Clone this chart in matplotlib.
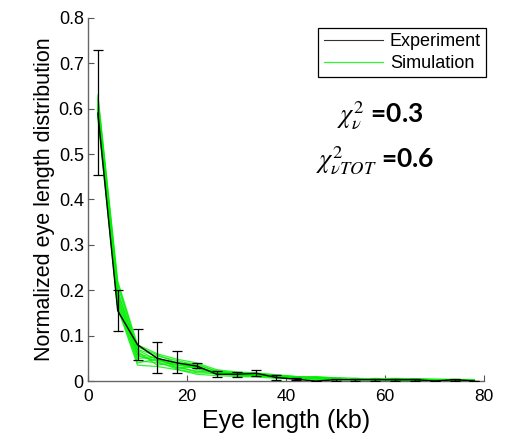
import numpy as np
import matplotlib
matplotlib.use("Agg")
from matplotlib import pyplot as plt

plt.rcParams["font.family"] = ["Liberation Sans", "DejaVu Sans"]
plt.rcParams["mathtext.fontset"] = "stix"

# eye length bins (kb)
EYE_LEN = [2, 6, 10, 14, 18, 22, 26, 30, 34, 38, 42, 46, 50, 54, 58, 62, 66, 70, 74, 78]

EXP_MEAN = [0.59, 0.155, 0.080, 0.050, 0.040, 0.033, 0.015, 0.015, 0.017, 0.008,
            0.004, 0.0, 0.003, 0.003, 0.003, 0.003, 0.003, 0.0, 0.003, 0.0]
EXP_LOW = [0.455, 0.110, 0.047, 0.018, 0.018, 0.028, 0.008, 0.010, 0.012, 0.003,
           0.002, 0.0, 0.001, 0.001, 0.001, 0.001, 0.001, 0.0, 0.001, 0.0]
EXP_HIGH = [0.730, 0.200, 0.115, 0.085, 0.067, 0.040, 0.022, 0.020, 0.025, 0.013,
            0.006, 0.0, 0.005, 0.005, 0.005, 0.005, 0.005, 0.0, 0.005, 0.0]

SIM_RUNS = [
    [0.63, 0.22, 0.080, 0.060, 0.048, 0.040, 0.025, 0.020, 0.018, 0.014, 0.010, 0.009, 0.007, 0.006, 0.005, 0.006, 0.005, 0.004, 0.004, 0.003],
    [0.60, 0.17, 0.045, 0.040, 0.030, 0.022, 0.015, 0.012, 0.012, 0.008, 0.006, 0.005, 0.004, 0.004, 0.003, 0.003, 0.003, 0.002, 0.002, 0.001],
    [0.61, 0.19, 0.060, 0.050, 0.038, 0.030, 0.020, 0.016, 0.014, 0.010, 0.008, 0.007, 0.005, 0.005, 0.004, 0.004, 0.004, 0.003, 0.003, 0.002],
    [0.58, 0.16, 0.035, 0.032, 0.025, 0.015, 0.012, 0.010, 0.009, 0.006, 0.005, 0.004, 0.003, 0.003, 0.003, 0.002, 0.002, 0.002, 0.001, 0.001],
    [0.62, 0.21, 0.070, 0.055, 0.045, 0.035, 0.022, 0.018, 0.016, 0.012, 0.009, 0.008, 0.006, 0.005, 0.005, 0.005, 0.004, 0.004, 0.003, 0.002],
    [0.595, 0.18, 0.055, 0.045, 0.035, 0.028, 0.018, 0.014, 0.013, 0.009, 0.007, 0.006, 0.005, 0.004, 0.004, 0.003, 0.003, 0.003, 0.002, 0.002],
    [0.615, 0.20, 0.065, 0.035, 0.042, 0.025, 0.020, 0.017, 0.011, 0.011, 0.008, 0.010, 0.006, 0.004, 0.006, 0.004, 0.005, 0.002, 0.003, 0.001],
    [0.605, 0.175, 0.050, 0.052, 0.028, 0.033, 0.016, 0.015, 0.015, 0.007, 0.009, 0.006, 0.004, 0.006, 0.003, 0.005, 0.003, 0.003, 0.002, 0.002],
    [0.59, 0.165, 0.040, 0.048, 0.032, 0.020, 0.024, 0.011, 0.013, 0.010, 0.006, 0.005, 0.005, 0.003, 0.004, 0.003, 0.002, 0.003, 0.002, 0.001],
    [0.625, 0.215, 0.075, 0.058, 0.040, 0.038, 0.021, 0.019, 0.017, 0.013, 0.010, 0.007, 0.007, 0.005, 0.005, 0.004, 0.004, 0.003, 0.003, 0.002],
    [0.60, 0.195, 0.068, 0.047, 0.036, 0.031, 0.019, 0.016, 0.015, 0.011, 0.009, 0.006, 0.006, 0.005, 0.004, 0.004, 0.003, 0.003, 0.002, 0.002],
    [0.585, 0.185, 0.058, 0.043, 0.026, 0.018, 0.017, 0.013, 0.010, 0.009, 0.007, 0.008, 0.005, 0.004, 0.005, 0.003, 0.004, 0.002, 0.003, 0.002],
]

CHI2_NU = "0.3"
CHI2_TOT = "0.6"


def main():
    fig = plt.figure(figsize=(5.16, 4.36), dpi=100)
    ax = fig.add_axes([0.1705, 0.126, 0.768, 0.833])

    x = np.array(EYE_LEN)
    for i, run in enumerate(SIM_RUNS):
        ax.plot(x, run, color="#00f000", linewidth=0.9, alpha=0.8,
                label="Simulation" if i == 0 else None, zorder=2)

    mean = np.array(EXP_MEAN)
    yerr = [mean - np.array(EXP_LOW), np.array(EXP_HIGH) - mean]
    ax.errorbar(x, mean, yerr=yerr, color="black", linewidth=1.0, elinewidth=0.9,
                capsize=3.5, capthick=0.9, zorder=3)
    ax.plot([], [], color="#333333", linewidth=0.8, label="Experiment")

    ax.set_xlim(0, 80)
    ax.set_ylim(0, 0.8)
    ax.set_xticks([0, 20, 40, 60, 80])
    ax.set_yticks(np.arange(0, 0.81, 0.1))
    ax.set_yticklabels(["0", "0.1", "0.2", "0.3", "0.4", "0.5", "0.6", "0.7", "0.8"])
    ax.tick_params(direction="in", length=4, color="#555555")
    ax.tick_params(axis="y", labelsize=13, pad=3)
    ax.tick_params(axis="x", labelsize=12.5, pad=6)
    for side in ("top", "right"):
        ax.spines[side].set_visible(False)
    for side in ("left", "bottom"):
        ax.spines[side].set_color("#666666")
        ax.spines[side].set_linewidth(1.0)

    ax.set_xlabel("Eye length (kb)", fontsize=18, labelpad=3)
    ax.set_ylabel("Normalized eye length distribution", fontsize=15.5, labelpad=3)

    handles, labels = ax.get_legend_handles_labels()
    order = [labels.index("Experiment"), labels.index("Simulation")]
    leg = ax.legend([handles[k] for k in order], [labels[k] for k in order],
                    loc="upper right", bbox_to_anchor=(1.005, 0.972), fontsize=13,
                    fancybox=False, framealpha=1, edgecolor="black",
                    handlelength=3.3, handletextpad=0.35, borderpad=0.3,
                    labelspacing=0.25, borderaxespad=0)
    leg.get_frame().set_linewidth(0.9)

    ax.text(0.629, 0.711, r"$\chi^2_{\nu}$ =" + CHI2_NU, transform=ax.transAxes,
            fontsize=19, fontfamily="Lato", fontweight="bold", ha="left", va="baseline")
    ax.text(0.576, 0.587, r"$\chi^2_{\nu TOT}$ =" + CHI2_TOT, transform=ax.transAxes,
            fontsize=19, fontfamily="Lato", fontweight="bold", ha="left", va="baseline")

    fig.savefig("out.png", dpi=100)


if __name__ == "__main__":
    main()
